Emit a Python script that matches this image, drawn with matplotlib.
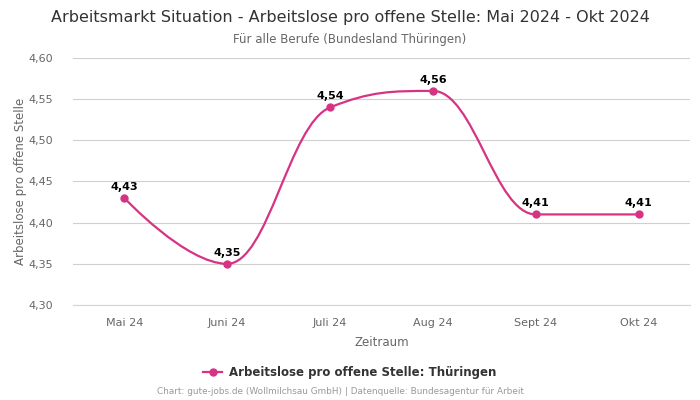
import matplotlib.pyplot as plt
from matplotlib.path import Path
from matplotlib.patches import PathPatch
from matplotlib.lines import Line2D

months = ['Mai 24', 'Juni 24', 'Juli 24', 'Aug 24', 'Sept 24', 'Okt 24']
values = [4.43, 4.35, 4.54, 4.56, 4.41, 4.41]
yticks = [4.30, 4.35, 4.40, 4.45, 4.50, 4.55, 4.60]

line_color = '#d63384'


def spline_path(xs, ys, smoothing=1.5):
    # bezier segments like highcharts' spline series
    denom = smoothing + 1
    n = len(xs)
    right = [(xs[0], ys[0])] + [None] * (n - 1)
    left = [None] * n
    for i in range(1, n):
        x, y = xs[i], ys[i]
        if i < n - 1:
            lx, ly = xs[i - 1], ys[i - 1]
            nx, ny = xs[i + 1], ys[i + 1]
            lcx = (smoothing * x + lx) / denom
            lcy = (smoothing * y + ly) / denom
            rcx = (smoothing * x + nx) / denom
            rcy = (smoothing * y + ny) / denom
            corr = 0
            if rcx != lcx:
                corr = (rcy - lcy) * (rcx - x) / (rcx - lcx) + y - rcy
            lcy += corr
            rcy += corr
            if lcy > ly and lcy > y:
                lcy = max(ly, y)
                rcy = 2 * y - lcy
            elif lcy < ly and lcy < y:
                lcy = min(ly, y)
                rcy = 2 * y - lcy
            if rcy > ny and rcy > y:
                rcy = max(ny, y)
                lcy = 2 * y - rcy
            elif rcy < ny and rcy < y:
                rcy = min(ny, y)
                lcy = 2 * y - rcy
            left[i] = (lcx, lcy)
            right[i] = (rcx, rcy)
        else:
            left[i] = (x, y)
    verts = [(xs[0], ys[0])]
    codes = [Path.MOVETO]
    for i in range(1, n):
        verts += [right[i - 1], left[i], (xs[i], ys[i])]
        codes += [Path.CURVE4] * 3
    return Path(verts, codes)


fig = plt.figure(figsize=(7, 4), dpi=100)
ax = fig.add_axes([0.104, 0.2375, 0.882, 0.6175])

xs = list(range(len(months)))
ax.add_patch(PathPatch(spline_path(xs, values), facecolor='none',
                       edgecolor=line_color, lw=1.6, zorder=3))
ax.plot(xs, values, 'o', color=line_color, markersize=5, zorder=4)

for x, v in zip(xs, values):
    ax.annotate(f'{v:.2f}'.replace('.', ','), (x, v), xytext=(0, 4.5),
                textcoords='offset points', ha='center', va='bottom',
                fontsize=8, fontweight='bold', color='black')

ax.set_xlim(-0.5, len(months) - 0.5)
ax.set_ylim(4.30, 4.60)
ax.set_yticks(yticks)
ax.set_yticklabels([f'{t:.2f}'.replace('.', ',') for t in yticks])
ax.set_xticks(xs)
ax.set_xticklabels(months)
ax.tick_params(axis='both', length=0, labelsize=8, labelcolor='#666666')
ax.tick_params(axis='x', pad=9)
ax.tick_params(axis='y', pad=14)
ax.grid(axis='y', color='#d0d0d0', lw=0.8)
ax.set_axisbelow(True)
for s in ['top', 'right', 'left']:
    ax.spines[s].set_visible(False)
ax.spines['bottom'].set_color('#ccd6eb')

ax.set_xlabel('Zeitraum', fontsize=8.5, color='#666666', labelpad=6)
ax.set_ylabel('Arbeitslose pro offene Stelle', fontsize=8.5, color='#666666', labelpad=1)

fig.text(0.5, 0.957, 'Arbeitsmarkt Situation - Arbeitslose pro offene Stelle: Mai 2024 - Okt 2024',
         ha='center', va='center', fontsize=11.5, color='#333333')
fig.text(0.5, 0.902, 'Für alle Berufe (Bundesland Thüringen)',
         ha='center', va='center', fontsize=8.5, color='#666666')

handle = Line2D([], [], color=line_color, marker='o', markersize=5, lw=1.6)
fig.legend([handle], ['Arbeitslose pro offene Stelle: Thüringen'], loc='center',
           bbox_to_anchor=(0.5, 0.068), frameon=False, handlelength=1.6,
           handletextpad=0.6, prop={'weight': 'bold', 'size': 8.5},
           labelcolor='#333333')

fig.text(0.486, 0.02, 'Chart: gute-jobs.de (Wollmilchsau GmbH) | Datenquelle: Bundesagentur für Arbeit',
         ha='center', va='center', fontsize=6.4, color='#999999')

fig.savefig('out.png', dpi=100)
